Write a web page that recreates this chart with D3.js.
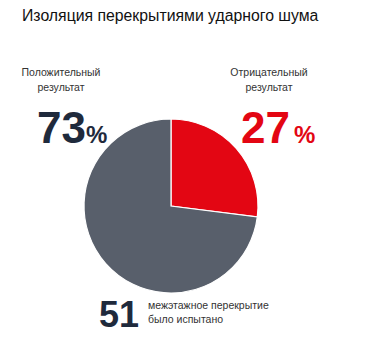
<!DOCTYPE html>
<html>
<head>
<meta charset="utf-8">
<script src="https://cdn.jsdelivr.net/npm/d3@7"></script>
<style>
  html, body { margin: 0; padding: 0; background: #fff; }
  svg { display: block; font-family: "Liberation Sans", Arial, sans-serif; }
</style>
</head>
<body>
<svg id="chart" width="368" height="339"></svg>
<script>
// Test outcomes for impact-noise insulation of floor slabs
const categories = ["Отрицательный результат", "Положительный результат"];
const shares = [27, 73];
const colors = ["#e30613", "#585f6b"];
const testedCount = 51;

const svg = d3.select("#chart");

svg.append("text")
  .attr("x", 22).attr("y", 21)
  .attr("font-size", 15.8)
  .attr("fill", "#111")
  .text("Изоляция перекрытиями ударного шума");

const cx = 171, cy = 206, r = 87;

const pie = d3.pie().sort(null).value(d => d)(shares);
const arc = d3.arc().innerRadius(0).outerRadius(r);

svg.append("g")
  .attr("transform", `translate(${cx},${cy})`)
  .selectAll("path")
  .data(pie)
  .join("path")
  .attr("d", arc)
  .attr("fill", (d, i) => colors[i])
  .attr("stroke", "#fff")
  .attr("stroke-width", 1.2);

// Side labels with big percentages
function sideLabel(x, lines, value, color, pctGap) {
  const g = svg.append("g");
  lines.forEach((t, i) => {
    g.append("text")
      .attr("x", x).attr("y", 76 + i * 15)
      .attr("text-anchor", "middle")
      .attr("font-size", 10.5)
      .attr("fill", "#333")
      .text(t);
  });
  const big = g.append("text")
    .attr("y", 143)
    .attr("font-size", 44)
    .attr("font-weight", "bold")
    .attr("fill", color);
  big.append("tspan").text(value);
  big.append("tspan").attr("font-size", 24).attr("dx", pctGap).text("%");
  return big;
}

const left = sideLabel(61, ["Положительный", "результат"], shares[1], "#1f2a3c", 0);
left.attr("x", 37);
const right = sideLabel(269, ["Отрицательный", "результат"], shares[0], colors[0], 4);
right.attr("x", 241);

// Bottom count
svg.append("text")
  .attr("x", 99).attr("y", 327)
  .attr("font-size", 36)
  .attr("font-weight", "bold")
  .attr("fill", "#1f2a3c")
  .text(testedCount);

["межэтажное перекрытие", "было испытано"].forEach((t, i) => {
  svg.append("text")
    .attr("x", 148).attr("y", 309 + i * 14)
    .attr("font-size", 10.5)
    .attr("fill", "#333")
    .text(t);
});
</script>
</body>
</html>
